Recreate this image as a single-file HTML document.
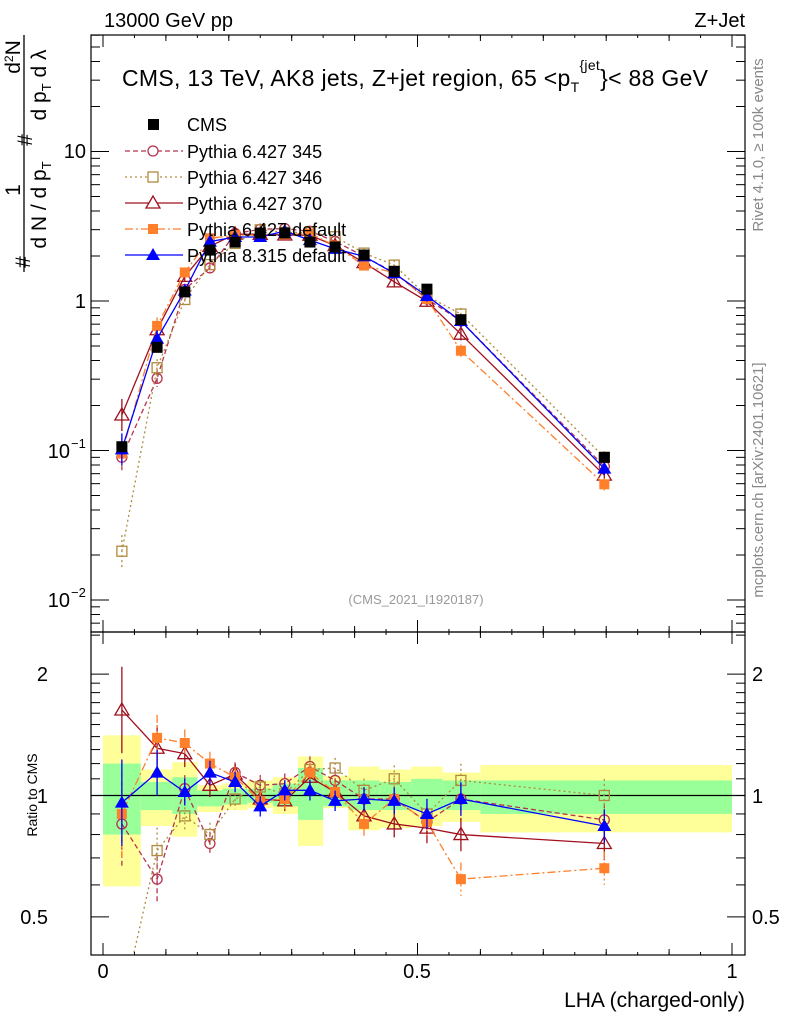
<!DOCTYPE html>
<html><head><meta charset="utf-8"><style>
html,body{margin:0;padding:0;background:#fff;width:786px;height:1024px;overflow:hidden;position:relative;}
svg{display:block;font-family:"Liberation Sans",sans-serif;}
</style></head><body>
<svg id="c" width="786" height="1024" viewBox="0 0 786 1024" style="position:absolute;left:0;top:0;overflow:hidden"></svg>
<script>
const binEdges=[0,0.06,0.11,0.15,0.19,0.23,0.27,0.31,0.35,0.39,0.44,0.49,0.54,0.6,1.0];
const xCenters=[0.030,0.086,0.130,0.170,0.210,0.250,0.289,0.329,0.369,0.415,0.463,0.515,0.569,0.797];
const cmsValues=[0.106,0.49,1.15,2.19,2.48,2.85,2.85,2.48,2.3,2.03,1.58,1.2,0.75,0.09];
const yellowUp=[1.41,1.16,1.21,1.06,1.07,1.09,1.11,1.25,1.12,1.18,1.16,1.18,1.14,1.19];
const yellowDn=[0.595,0.84,0.79,0.91,0.92,0.93,0.90,0.75,0.93,0.82,0.83,0.84,0.86,0.81];
const greenUp=[1.20,1.08,1.11,1.03,1.04,1.04,1.07,1.17,1.09,1.09,1.08,1.10,1.09,1.09];
const greenDn=[0.80,0.92,0.90,0.94,0.95,0.96,0.94,0.87,0.94,0.92,0.92,0.92,0.92,0.90];
const ratio345=[0.85,0.62,1.04,0.76,1.14,1.06,1.07,1.18,1.09,0.98,0.98,0.86,0.98,0.87];
const ratio346=[0.20,0.73,0.89,0.80,0.98,1.05,1.01,1.16,1.17,1.03,1.10,0.90,1.09,1.00];
const ratio370=[1.63,1.31,1.27,1.06,1.13,0.98,0.97,1.11,1.02,0.89,0.85,0.83,0.80,0.76];
const ratioP6def=[0.90,1.39,1.35,1.20,1.11,0.97,0.98,1.14,1.02,0.85,0.98,0.86,0.62,0.66];
const ratioP8=[0.96,1.14,1.02,1.14,1.08,0.94,1.03,1.03,0.97,0.98,0.97,0.90,0.98,0.84];
const relErr=[0.28,0.14,0.08,0.07,0.06,0.06,0.06,0.06,0.06,0.07,0.08,0.09,0.1,0.1];

const NS="http://www.w3.org/2000/svg";
const svg=document.getElementById('c');
function el(tag,attrs,parent){const e=document.createElementNS(NS,tag);for(const k in attrs)e.setAttribute(k,attrs[k]);(parent||svg).appendChild(e);return e;}
const L=91,R=745,T=35,M=632,B=955;
const X=v=>103+629*v;
const Ymain=v=>301-149.5*Math.log10(v);
const Yrat=r=>795.5-403*Math.log10(Math.max(r,0.3));

const clipM=el('clipPath',{id:'cm'});el('rect',{x:L,y:T,width:R-L,height:M-T},clipM);
const clipR=el('clipPath',{id:'cr'});el('rect',{x:L,y:M,width:R-L,height:B-M},clipR);

const bands=el('g',{'clip-path':'url(#cr)'});


for(let i=0;i<xCenters.length;i++){
  const x0=X(binEdges[i]),x1=X(binEdges[i+1]);
  const y=el('rect',{x:x0,y:Yrat(yellowUp[i]),width:x1-x0,height:Yrat(yellowDn[i])-Yrat(yellowUp[i]),fill:'#ffff99'},bands);
  
  
  const g=el('rect',{x:x0,y:Yrat(greenUp[i]),width:x1-x0,height:Yrat(greenDn[i])-Yrat(greenUp[i]),fill:'#99ff99'},bands);
  
  
}
el('line',{x1:L,x2:R,y1:Yrat(1),y2:Yrat(1),stroke:'#000','stroke-width':1.2});

const series=[
 {name:'pythia-6427-345',r:ratio345,color:'#b5334f',dash:'5,3',mk:'circle'},
 {name:'pythia-6427-346',r:ratio346,color:'#b08b3e',dash:'2,3',mk:'osquare'},
 {name:'pythia-6427-370',r:ratio370,color:'#a0101e',dash:'',mk:'otri'},
 {name:'pythia-6427-default',r:ratioP6def,color:'#ff7f2a',dash:'8,3,2,3',mk:'fsquare'},
 {name:'pythia-8315-default',r:ratioP8,color:'#0000ff',dash:'',mk:'ftri'}
];
function marker(g,type,x,y,c){
  if(type==='circle')el('circle',{cx:x,cy:y,r:5,fill:'none',stroke:c,'stroke-width':1.3},g);
  else if(type==='osquare')el('rect',{x:x-5,y:y-5,width:10,height:10,fill:'none',stroke:c,'stroke-width':1.3},g);
  else if(type==='fsquare')el('rect',{x:x-5,y:y-5,width:10,height:10,fill:c},g);
  else if(type==='bsquare')el('rect',{x:x-5.5,y:y-5.5,width:11,height:11,fill:c},g);
  else if(type==='otri')el('polygon',{points:`${x},${y-7} ${x-7},${y+5} ${x+7},${y+5}`,fill:'none',stroke:c,'stroke-width':1.3},g);
  else el('polygon',{points:`${x},${y-7} ${x-7},${y+5} ${x+7},${y+5}`,fill:c},g);
}
function drawSeries(s,Yf,clip,vals,tag){
  const g=el('g',{'clip-path':clip});
  
  
  const pts=vals.map((v,i)=>X(xCenters[i])+','+Yf(v)).join(' ');
  el('polyline',{points:pts,fill:'none',stroke:s.color,'stroke-width':1.3,'stroke-dasharray':s.dash},g);
  vals.forEach((v,i)=>{
    const x=X(xCenters[i]);
    el('line',{x1:x,x2:x,y1:Yf(v*(1+relErr[i])),y2:Yf(v/(1+relErr[i])),stroke:s.color,'stroke-width':1.3,'stroke-dasharray':s.dash},g);
    marker(g,s.mk,x,Yf(v),s.color);
  });
}
series.forEach(s=>drawSeries(s,Yrat,'url(#cr)',s.r,'ratio'));
series.forEach(s=>drawSeries(s,Ymain,'url(#cm)',s.r.map((r,i)=>r*cmsValues[i]),'main'));
const cg=el('g',{'clip-path':'url(#cm)'});


cmsValues.forEach((v,i)=>{const x=X(xCenters[i]);
  el('line',{x1:x,x2:x,y1:Ymain(v*1.05),y2:Ymain(v/1.05),stroke:'#000','stroke-width':1.2},cg);
  marker(cg,'bsquare',x,Ymain(v),'#000');});

el('rect',{x:L,y:T,width:R-L,height:M-T,fill:'none',stroke:'#000','stroke-width':1.2});
el('rect',{x:L,y:M,width:R-L,height:B-M,fill:'none',stroke:'#000','stroke-width':1.2});
for(let k=0;k<=10;k++){const x=X(k/10),big=k%5===0?12:6;
  [[M,-1],[T,1],[B,-1],[M,1]].forEach(([y0,d])=>el('line',{x1:x,x2:x,y1:y0,y2:y0+d*big,stroke:'#000'}));}
for(let k=0;k<=20;k++){const x=X(k/20);[[M,-1],[T,1],[B,-1],[M,1]].forEach(([y0,d])=>el('line',{x1:x,x2:x,y1:y0,y2:y0+d*3,stroke:'#000'}));}
for(let e=-3;e<=1;e++)for(let m=1;m<10;m++){const v=m*Math.pow(10,e),y=Ymain(v);if(y<T||y>M)continue;const w=m===1?18:9;
  el('line',{x1:L,x2:L+w,y1:y,y2:y,stroke:'#000'});el('line',{x1:R,x2:R-w,y1:y,y2:y,stroke:'#000'});}
[0.4,0.5,0.6,0.7,0.8,0.9,1,1.1,1.2,1.3,1.4,1.5,1.6,1.7,1.8,1.9,2,2.5].forEach(r=>{const y=Yrat(r);if(y<M||y>B)return;const w=[0.5,1,2].includes(r)?18:9;
  el('line',{x1:L,x2:L+w,y1:y,y2:y,stroke:'#000'});el('line',{x1:R,x2:R-w,y1:y,y2:y,stroke:'#000'});});
</script>
<svg width="786" height="1024" style="position:absolute;left:0;top:0" font-family="Liberation Sans, sans-serif">
<g>
<text x="86" y="158" font-size="20" text-anchor="end">10</text>
<text x="86" y="308" font-size="20" text-anchor="end">1</text>
<text x="70" y="458" font-size="20" text-anchor="end">10</text><text x="71" y="448" font-size="13">−1</text>
<text x="70" y="607" font-size="20" text-anchor="end">10</text><text x="71" y="597" font-size="13">−2</text>
<text x="48" y="681" font-size="20" text-anchor="end">2</text>
<text x="48" y="803" font-size="20" text-anchor="end">1</text>
<text x="48" y="924" font-size="20" text-anchor="end">0.5</text>
<text x="752" y="681" font-size="20">2</text>
<text x="752" y="803" font-size="20">1</text>
<text x="752" y="924" font-size="20">0.5</text>
<text x="103" y="978" font-size="20" text-anchor="middle">0</text>
<text x="417" y="978" font-size="20" text-anchor="middle">0.5</text>
<text x="732" y="978" font-size="20" text-anchor="middle">1</text>
<text x="745" y="1007" font-size="21" text-anchor="end">LHA (charged-only)</text>
<text transform="translate(37,795) rotate(-90)" font-size="14" text-anchor="middle">Ratio to CMS</text>
<g transform="rotate(-90)" font-size="21" text-anchor="middle">
<line x1="-272" x2="-35" y1="24" y2="24" stroke="#000" stroke-width="1.3"/>
<text x="-262" y="30">#</text>
<text x="-190" y="20">1</text>
<text x="-205" y="46">d N / d p<tspan font-size="13" dy="5">T</tspan></text>
<text x="-140" y="32">#</text>
<text x="-85" y="46">d p<tspan font-size="13" dy="5">T</tspan><tspan dy="-5">  d λ</tspan></text>
<text x="-57" y="20">d<tspan font-size="12" dy="-7">2</tspan><tspan dy="7">N</tspan></text>
</g>
</g>
<text x="104" y="27" font-size="20">13000 GeV pp</text>
<text x="745" y="27" font-size="20" text-anchor="end">Z+Jet</text>
<text x="122" y="86" font-size="23" letter-spacing="0.3">CMS, 13 TeV, AK8 jets, Z+jet region, 65 &lt;p<tspan font-size="14" dy="6">T</tspan><tspan font-size="14" dy="-22">{jet</tspan><tspan dy="16">}&lt; 88 GeV</tspan></text>
<text x="416" y="604" font-size="13" fill="#999" text-anchor="middle">(CMS_2021_I1920187)</text>
<text transform="translate(763,145) rotate(-90)" font-size="15" fill="#888" text-anchor="middle">Rivet 4.1.0, ≥ 100k events</text>
<text transform="translate(763,480) rotate(-90)" font-size="15" fill="#888" text-anchor="middle">mcplots.cern.ch [arXiv:2401.10621]</text>
<g font-size="18">
<g><rect x="148" y="119" width="11" height="11" fill="#000"/><text x="187" y="131">CMS</text></g>
<g><line x1="125" x2="183" y1="151" y2="151" stroke="#b5334f" stroke-dasharray="5,3" stroke-width="1.3"/><circle cx="153" cy="151" r="5" fill="#fff" stroke="#b5334f" stroke-width="1.3"/><text x="187" y="158">Pythia 6.427 345</text></g>
<g><line x1="125" x2="183" y1="177" y2="177" stroke="#b08b3e" stroke-dasharray="2,3" stroke-width="1.3"/><rect x="148" y="172" width="10" height="10" fill="#fff" stroke="#b08b3e" stroke-width="1.3"/><text x="187" y="184">Pythia 6.427 346</text></g>
<g><line x1="125" x2="183" y1="203" y2="203" stroke="#a0101e" stroke-width="1.3"/><polygon points="153,196 146,208 160,208" fill="#fff" stroke="#a0101e" stroke-width="1.3"/><text x="187" y="210">Pythia 6.427 370</text></g>
<g><line x1="125" x2="183" y1="229" y2="229" stroke="#ff7f2a" stroke-dasharray="8,3,2,3" stroke-width="1.3"/><rect x="148" y="224" width="10" height="10" fill="#ff7f2a"/><text x="187" y="236">Pythia 6.427 default</text></g>
<g><line x1="125" x2="183" y1="255" y2="255" stroke="#0000ff" stroke-width="1.3"/><polygon points="153,248 146,260 160,260" fill="#0000ff"/><text x="187" y="262">Pythia 8.315 default</text></g>
</g>
</svg>
</body></html>
